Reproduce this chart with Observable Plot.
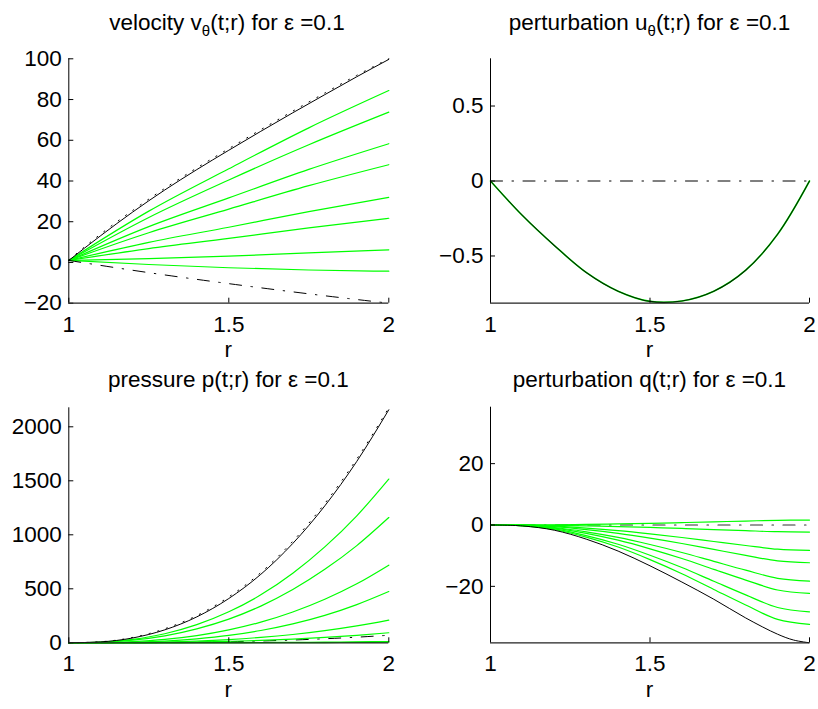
<!DOCTYPE html>
<html><head><meta charset="utf-8">
<script src="https://cdn.jsdelivr.net/npm/d3@7"></script>
<script src="https://cdn.jsdelivr.net/npm/@observablehq/plot@0.6"></script>
<style>
body{margin:0;background:#fff;}
#fig{position:relative;width:818px;height:709px;background:#fff;overflow:hidden;}
#fig svg{position:absolute;}
</style></head><body><div id="fig"></div>
<script>
// ---------- data ----------
const r11 = [1, 1.1, 1.2, 1.3, 1.4, 1.5, 1.6, 1.7, 1.8, 1.9, 2];
const r12 = [1, 1.1, 1.2, 1.3, 1.4, 1.5, 1.6, 1.7, 1.8, 1.9, 1.95, 2];
const r5 = [1, 1.25, 1.5, 1.75, 2];
const r2 = [1, 2];
const xTicks = [1, 1.5, 2];

// velocity v_theta
const velTicks = [-20, 0, 20, 40, 60, 80, 100];
const velBlack = [1, 13.2, 24.8, 35.6, 45.6, 55.1, 64.4, 73.5, 82.4, 91.2, 99.7];
const velDotted = [1.2, 14.0, 25.6, 36.4, 46.4, 55.9, 65.2, 74.3, 83.2, 91.9, 100];
const velDashDot = [1, -5.0, -10.4, -15.4, -20];
const velGreen = [
  [1, 25.2, 46.0, 66.1, 84.4],
  [1, 22.1, 40.5, 57.8, 73.8],
  [1, 17.6, 31.7, 45.7, 58.3],
  [1, 14.6, 26.2, 37.7, 48.0],
  [1, 9.9, 17.3, 25.0, 32.0],
  [1, 6.8, 11.8, 17.0, 21.7],
  [1, 1.9, 3.1, 4.7, 6.2],
  [1, -1.0, -2.6, -3.7, -4.3]
];

// perturbation u_theta
const uTicks = [-0.5, 0, 0.5];
const uBlack = [0, -0.23, -0.43, -0.61, -0.735, -0.803, -0.800, -0.735, -0.595, -0.355, 0];
const uDashDot = [0, 0];

// pressure p
const pTicks = [0, 500, 1000, 1500, 2000];
const pBlack = [0, 8.6, 45, 120, 240, 410, 634, 920, 1268, 1680, 2158];
const pDotted = [0, 10, 50, 130, 252, 425, 650, 940, 1290, 1702, 2176];
const pDashDot = [0, 0.1, 0.8, 2.4, 5.4, 10, 16.8, 25.8, 37.5, 52, 70];
const pGreen = [
  [0, 6, 32, 84, 168, 287, 444, 644, 888, 1176, 1516],
  [0, 5, 24, 64, 129, 219, 340, 493, 680, 900, 1160],
  [0, 1.8, 11, 31, 66, 119, 191, 285, 403, 546, 719],
  [0, 0.8, 5.2, 16, 37, 68, 114, 175, 254, 354, 475],
  [0, 0.3, 2.3, 7.2, 16, 30, 50, 77, 112, 156, 210],
  [0, 0.1, 1, 3.2, 7.2, 13.4, 22, 34, 50, 69, 93],
  [0, 0, 0.1, 0.4, 0.9, 1.7, 2.9, 4.4, 6.4, 8.9, 12],
  [0, 0, 0, 0.1, 0.3, 0.6, 1.0, 1.6, 2.4, 3.5, 5]
];

// perturbation q
const qTicks = [-20, 0, 20];
const qBlack = [0, -0.3, -1.7, -4.6, -8.5, -13.3, -18.6, -24.2, -30.3, -35.6, -37.5, -38.4];
const qDashDot = [0, 0];
const qGreen = [
  [0, 0.01, 0.07, 0.2, 0.36, 0.56, 0.78, 1.04, 1.29, 1.52, 1.6],
  [0, -0.02, -0.1, -0.28, -0.51, -0.8, -1.13, -1.49, -1.85, -2.19, -2.3],
  [0, -0.07, -0.37, -1.01, -1.84, -2.89, -4.07, -5.38, -6.68, -7.89, -8.3],
  [0, -0.1, -0.55, -1.5, -2.73, -4.28, -6.03, -7.97, -9.9, -11.69, -12.3],
  [0, -0.15, -0.82, -2.23, -4.06, -6.37, -8.97, -11.86, -14.73, -17.39, -18.3],
  [0, -0.18, -1.0, -2.72, -4.95, -7.76, -10.93, -14.45, -17.95, -21.19, -22.3],
  [0, -0.23, -1.27, -3.45, -6.28, -9.85, -13.87, -18.34, -22.78, -26.89, -28.3],
  [0, -0.26, -1.46, -3.95, -7.19, -11.28, -15.88, -21.0, -26.08, -30.78, -32.4]
];

// ---------- drawing ----------
const FONT = "'Liberation Sans', Arial, Helvetica, sans-serif";
const GREEN = "#00ff00";
const DASHDOT = "12,9.5,1.5,9.5";
const DOTTED = "1.2,7.8";
const fmt = d => (d < 0 ? "\u2212" : "") + Math.abs(d);
const rows = (xs, ys) => xs.map((x, i) => ({x, y: ys[i]}));
const line = (xs, ys, o) => Plot.line(rows(xs, ys), {x: "x", y: "y", curve: "monotone-x", ...o});

function panel(p) {
  const innerW = p.width - p.ml - p.mr;
  const innerH = p.height - p.mt - p.mb;
  const chart = Plot.plot({
    width: p.width, height: p.height,
    marginTop: p.mt, marginBottom: p.mb, marginLeft: p.ml, marginRight: p.mr,
    x: {domain: [1, 2]},
    y: {domain: p.yDomain},
    style: {fontFamily: FONT, fontSize: "22.5px", color: "black", background: "transparent", overflow: "visible"},
    marks: [
      Plot.axisX({ticks: xTicks, tickSize: 0, tickPadding: 12.5, tickFormat: fmt, label: null, fill: "black"}),
      Plot.axisY({ticks: p.yTicks, tickSize: 0, tickPadding: 7, tickFormat: fmt, label: null, fill: "black"}),
      ...p.marks,
      Plot.tickX(xTicks, {x: d => d, insetTop: innerH - 5, stroke: "black", strokeWidth: 1}),
      Plot.tickY(p.yTicks, {y: d => d, insetRight: innerW - 5, stroke: "black", strokeWidth: 1}),
      Plot.ruleX([1], {stroke: "black", strokeWidth: 1}),
      Plot.ruleY([p.yDomain[0]], {stroke: "#222", strokeWidth: 1.2})
    ]
  });
  chart.style.left = p.left + "px";
  chart.style.top = p.top + "px";
  document.getElementById("fig").appendChild(chart);
}

// top-left: velocity
panel({
  left: 0, top: 0, width: 409, height: 354, mt: 58.3, mb: 51.3, ml: 68.3, mr: 20.7,
  yDomain: [-20, 100], yTicks: velTicks,
  marks: [
    ...velGreen.map(g => line(r5, g, {stroke: GREEN, strokeWidth: 1.2})),
    line(r11, velBlack, {stroke: "black", strokeWidth: 1}),
    line(r11, velDotted, {stroke: "black", strokeWidth: 1, strokeDasharray: DOTTED}),
    line(r5, velDashDot, {stroke: "black", strokeWidth: 1, strokeDasharray: DASHDOT})
  ]
});

// top-right: u
panel({
  left: 409, top: 0, width: 409, height: 354, mt: 58.3, mb: 51.3, ml: 81, mr: 9,
  yDomain: [-0.815, 0.815], yTicks: uTicks,
  marks: [
    line(r2, uDashDot, {stroke: "black", strokeWidth: 1, strokeDasharray: DASHDOT}),
    line(r11, uBlack, {stroke: GREEN, strokeWidth: 1.6, curve: "catmull-rom"}),
    line(r11, uBlack, {stroke: "black", strokeWidth: 1.1, strokeOpacity: 0.85, curve: "catmull-rom"})
  ]
});

// bottom-left: pressure
panel({
  left: 0, top: 354, width: 409, height: 355, mt: 53.3, mb: 66.7, ml: 68.3, mr: 20.7,
  yDomain: [0, 2176], yTicks: pTicks,
  marks: [
    line(r11, pDashDot, {stroke: "black", strokeWidth: 1, strokeDasharray: DASHDOT}),
    ...pGreen.map(g => line(r11, g, {stroke: GREEN, strokeWidth: 1.2})),
    line(r11, pBlack, {stroke: "black", strokeWidth: 1}),
    line(r11, pDotted, {stroke: "black", strokeWidth: 1, strokeDasharray: DOTTED})
  ]
});

// bottom-right: q
panel({
  left: 409, top: 354, width: 409, height: 355, mt: 52.7, mb: 66.7, ml: 81, mr: 9,
  yDomain: [-38.4, 38.4], yTicks: qTicks,
  marks: [
    line(r2, qDashDot, {stroke: "#333", strokeWidth: 1.2, strokeDasharray: DASHDOT}),
    ...qGreen.map(g => line(r11, g, {stroke: GREEN, strokeWidth: 1.2, curve: "catmull-rom"})),
    line(r12, qBlack, {stroke: "black", strokeWidth: 1, curve: "catmull-rom"})
  ]
});

// ---------- titles and axis labels ----------
const NS = "http://www.w3.org/2000/svg";
const ov = document.createElementNS(NS, "svg");
ov.setAttribute("width", 818); ov.setAttribute("height", 709);
ov.style.left = "0px"; ov.style.top = "0px";
ov.setAttribute("font-family", FONT);
ov.setAttribute("font-size", 22.5);
document.getElementById("fig").appendChild(ov);

function title(x, y, parts) {
  const t = document.createElementNS(NS, "text");
  t.setAttribute("x", x); t.setAttribute("y", y);
  t.setAttribute("text-anchor", "middle");
  t.setAttribute("fill", "black");
  parts.forEach(([s, sub]) => {
    const ts = document.createElementNS(NS, "tspan");
    ts.textContent = s;
    if (sub === 1) { ts.setAttribute("font-size", 15); ts.setAttribute("dy", 6); }
    if (sub === -1) { ts.setAttribute("dy", -6); }
    t.appendChild(ts);
  });
  ov.appendChild(t);
}
title(227, 30, [["velocity v", 0], ["\u03b8", 1], ["(t;r) for \u03b5 =0.1", -1]]);
title(649.5, 30, [["perturbation u", 0], ["\u03b8", 1], ["(t;r) for \u03b5 =0.1", -1]]);
title(228.3, 387.3, [["pressure p(t;r) for \u03b5 =0.1", 0]]);
title(649.5, 387.3, [["perturbation q(t;r) for \u03b5 =0.1", 0]]);
title(228.3, 357.4, [["r", 0]]);
title(649.5, 357.4, [["r", 0]]);
title(228.3, 697, [["r", 0]]);
title(649.5, 697, [["r", 0]]);
</script></body></html>
